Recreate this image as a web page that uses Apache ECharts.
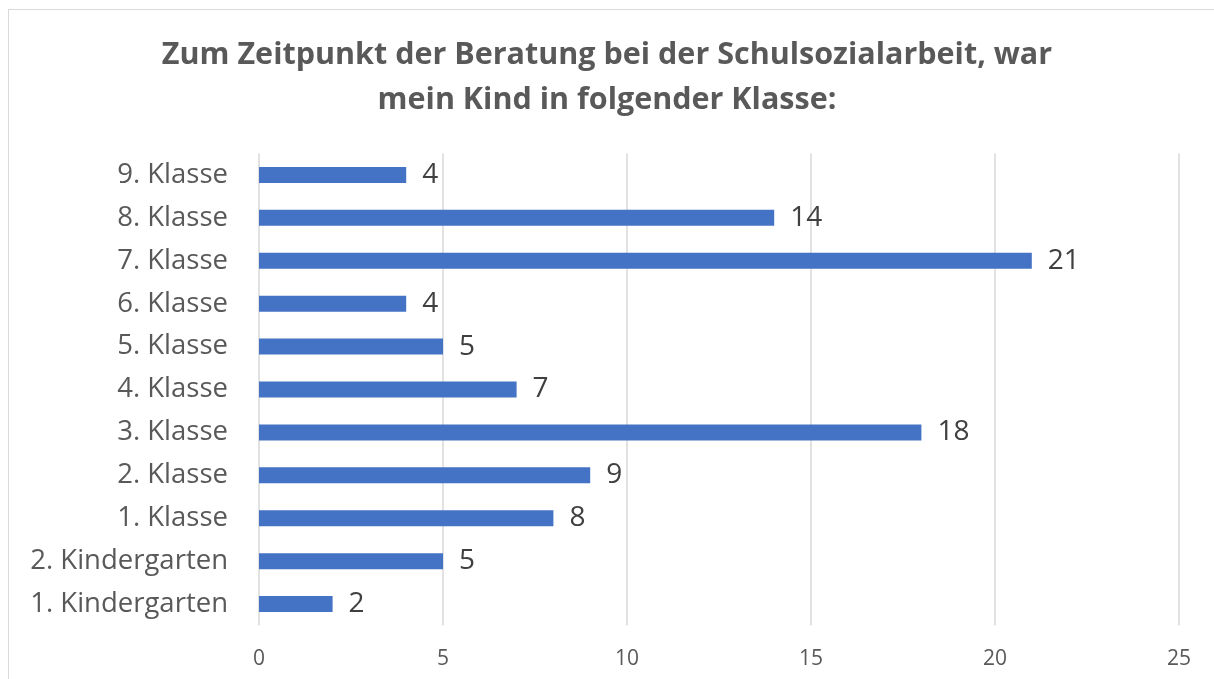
<!DOCTYPE html>
<html><head><meta charset="utf-8">
<script src="https://cdn.jsdelivr.net/npm/echarts@6/dist/echarts.min.js"></script>
<style>
html,body{margin:0;padding:0;background:#fff;}
#frame{position:absolute;left:8px;top:9px;width:1210px;height:676px;border:1px solid #d9d9d9;box-sizing:border-box;}
#chart{position:absolute;left:0;top:0;width:1214px;height:679px;}
</style></head>
<body>
<div id="frame"></div>
<div id="chart"></div>
<script>
const titleText = 'Zum Zeitpunkt der Beratung bei der Schulsozialarbeit, war\nmein Kind in folgender Klasse:';
const categories = ['1. Kindergarten','2. Kindergarten','1. Klasse','2. Klasse','3. Klasse','4. Klasse','5. Klasse','6. Klasse','7. Klasse','8. Klasse','9. Klasse'];
const values = [2,5,8,9,18,7,5,4,21,14,4];
const xTicks = [0,5,10,15,20,25];

const chart = echarts.init(document.getElementById('chart'), null, {renderer:'canvas'});
chart.setOption({
  animation:false,
  title:{
    text:titleText, left:'center', top:28,
    textStyle:{fontFamily:'Open Sans', fontWeight:'bold', fontSize:30.5, color:'#595959', lineHeight:45}
  },
  grid:{left:259, right:35, top:153.5, bottom:53.5, containLabel:false},
  xAxis:{
    type:'value', min:xTicks[0], max:xTicks[xTicks.length-1], interval:5,
    axisLine:{show:false}, axisTick:{show:false},
    splitLine:{show:true, lineStyle:{color:'#d9d9d9', width:1.5}},
    axisLabel:{fontFamily:'Open Sans', fontSize:21, color:'#595959', margin:23}
  },
  yAxis:{
    type:'category', data:categories,
    axisLine:{show:false}, axisTick:{show:false},
    axisLabel:{fontFamily:'Open Sans', fontSize:27.5, color:'#595959', margin:31}
  },
  series:[{
    type:'bar', data:values, barWidth:16,
    itemStyle:{color:'#4472c4'},
    label:{show:true, position:'right', distance:16, fontFamily:'Open Sans', fontSize:28, color:'#404040'}
  }]
});
</script>
</body></html>
